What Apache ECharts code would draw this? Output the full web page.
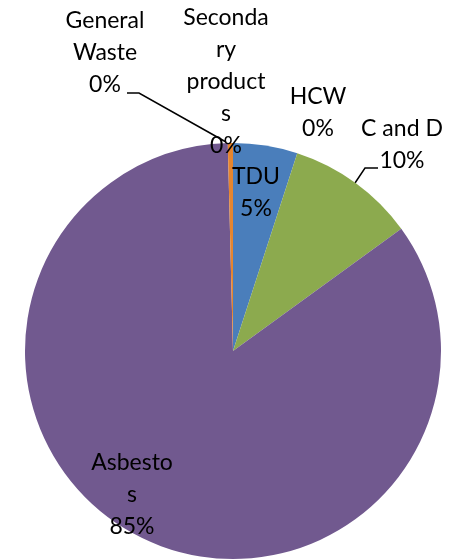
<!DOCTYPE html>
<html>
<head>
<meta charset="utf-8">
<script src="https://cdn.jsdelivr.net/npm/echarts@6/dist/echarts.min.js"></script>
<style>
  html, body { margin: 0; padding: 0; background: #fff; }
  #chart { width: 458px; height: 560px; }
</style>
</head>
<body>
<div id="chart"></div>
<script>
// categories in slice order, clockwise from 12 o'clock
var categories = ['TDU', 'HCW', 'C and D', 'Asbestos', 'General Waste', 'Secondary products'];
var values = [5.0, 0, 10.0, 84.6, 0, 0.4];
// wrapped label text as it shows in the chart
var wrappedNames = {
    'TDU': 'TDU',
    'HCW': 'HCW',
    'C and D': 'C and D',
    'Asbestos': 'Asbesto\ns',
    'General Waste': 'General\nWaste',
    'Secondary products': 'Seconda\nry\nproduct\ns'
};
var colors = ['#4A7EBB', '#BE4B48', '#8CAA4E', '#71598F', '#4BACC6', '#E5852F'];

// label placement (text centre) and leader lines
var labelPos = [
    { x: 256, y: 193 },
    { x: 318, y: 113 },
    { x: 402, y: 145 },
    { x: 132, y: 495 },
    { x: 105, y: 53 },
    { x: 226, y: 82 }
];
var leaders = {
    2: [[378, 168], [365, 168], [355, 183]],
    4: [[127, 93], [139, 93], [226, 142]]
};

var chart = echarts.init(document.getElementById('chart'));
var total = values.reduce(function (a, b) { return a + b; }, 0);

var option = {
    animation: false,
    color: colors,
    series: [{
        type: 'pie',
        center: [233, 351],
        radius: 208,
        startAngle: 90,
        clockwise: true,
        avoidLabelOverlap: false,
        itemStyle: { borderWidth: 0 },
        label: {
            show: true,
            color: '#000',
            fontFamily: 'Lato',
            fontSize: 23,
            lineHeight: 32,
            align: 'center',
            formatter: function (p) {
                return wrappedNames[p.name] + '\n' + Math.round(p.value / total * 100) + '%';
            }
        },
        labelLine: { show: false },
        labelLayout: function (params) {
            var pos = labelPos[params.dataIndex];
            var res = {
                x: pos.x,
                y: pos.y,
                align: 'center',
                verticalAlign: 'middle'
            };
            if (leaders[params.dataIndex]) {
                res.labelLinePoints = leaders[params.dataIndex];
            }
            return res;
        },
        data: categories.map(function (c, i) {
            var d = { name: c, value: values[i] };
            if (leaders[i]) {
                d.labelLine = { show: true, lineStyle: { color: '#000', width: 1.5 } };
            }
            return d;
        })
    }]
};

chart.setOption(option);
</script>
</body>
</html>
